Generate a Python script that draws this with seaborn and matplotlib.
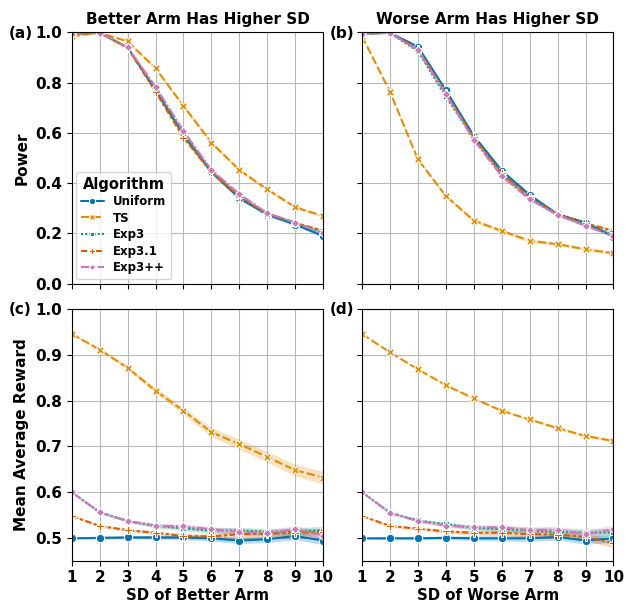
import numpy as np
import pandas as pd
import matplotlib
matplotlib.use("Agg")
import matplotlib.pyplot as plt
import seaborn as sns

sd = list(range(1, 11))
algorithms = ["Uniform", "TS", "Exp3", "Exp3.1", "Exp3++"]

# power, better arm has higher SD
power_better = {
    "Uniform": [0.995, 0.998, 0.940, 0.770, 0.592, 0.444, 0.340, 0.275, 0.235, 0.190],
    "TS":      [0.985, 0.998, 0.964, 0.857, 0.707, 0.561, 0.452, 0.375, 0.304, 0.269],
    "Exp3":    [0.995, 0.998, 0.940, 0.772, 0.598, 0.446, 0.348, 0.279, 0.240, 0.205],
    "Exp3.1":  [0.995, 0.998, 0.938, 0.764, 0.581, 0.443, 0.345, 0.278, 0.242, 0.210],
    "Exp3++":  [0.995, 0.998, 0.940, 0.784, 0.607, 0.452, 0.356, 0.280, 0.243, 0.200],
}
# power, worse arm has higher SD
power_worse = {
    "Uniform": [0.995, 0.998, 0.943, 0.770, 0.588, 0.450, 0.353, 0.276, 0.243, 0.187],
    "TS":      [0.985, 0.764, 0.495, 0.349, 0.251, 0.210, 0.171, 0.157, 0.137, 0.121],
    "Exp3":    [0.995, 0.998, 0.925, 0.745, 0.578, 0.435, 0.340, 0.275, 0.235, 0.195],
    "Exp3.1":  [0.995, 0.998, 0.935, 0.760, 0.582, 0.440, 0.345, 0.276, 0.240, 0.210],
    "Exp3++":  [0.995, 0.998, 0.930, 0.755, 0.572, 0.428, 0.336, 0.274, 0.230, 0.190],
}
# mean average reward, better arm has higher SD
reward_better = {
    "Uniform": [0.499, 0.500, 0.501, 0.501, 0.501, 0.499, 0.494, 0.497, 0.504, 0.494],
    "TS":      [0.946, 0.912, 0.872, 0.822, 0.778, 0.731, 0.705, 0.677, 0.648, 0.632],
    "Exp3":    [0.600, 0.556, 0.537, 0.526, 0.521, 0.516, 0.516, 0.513, 0.514, 0.516],
    "Exp3.1":  [0.548, 0.526, 0.517, 0.511, 0.504, 0.503, 0.508, 0.509, 0.511, 0.512],
    "Exp3++":  [0.600, 0.556, 0.537, 0.527, 0.525, 0.519, 0.513, 0.511, 0.519, 0.505],
}
# mean average reward, worse arm has higher SD
reward_worse = {
    "Uniform": [0.499, 0.499, 0.499, 0.500, 0.499, 0.499, 0.499, 0.502, 0.494, 0.499],
    "TS":      [0.946, 0.906, 0.869, 0.834, 0.805, 0.778, 0.759, 0.740, 0.723, 0.712],
    "Exp3":    [0.600, 0.555, 0.538, 0.530, 0.522, 0.519, 0.516, 0.513, 0.511, 0.512],
    "Exp3.1":  [0.548, 0.526, 0.520, 0.514, 0.511, 0.511, 0.508, 0.507, 0.502, 0.488],
    "Exp3++":  [0.600, 0.555, 0.537, 0.527, 0.523, 0.523, 0.517, 0.518, 0.508, 0.519],
}

# half widths of the confidence bands
band_power = [0.002, 0.002, 0.004, 0.006, 0.007, 0.007, 0.007, 0.007, 0.006, 0.006]
band_reward_ts = [0.002, 0.003, 0.004, 0.006, 0.008, 0.010, 0.011, 0.012, 0.013, 0.014]
band_reward_ts_worse = [0.001, 0.001, 0.001, 0.002, 0.002, 0.002, 0.002, 0.003, 0.003, 0.003]
band_reward = [0.002, 0.003, 0.003, 0.004, 0.005, 0.006, 0.007, 0.007, 0.008, 0.009]

sns.set_style("ticks", {"axes.grid": True, "grid.color": "#b8b8b8"})
plt.rcParams["font.family"] = ["DejaVu Sans"]
plt.rcParams["font.weight"] = "bold"
plt.rcParams["axes.labelweight"] = "bold"
plt.rcParams["axes.titleweight"] = "bold"
plt.rcParams["axes.edgecolor"] = "black"
plt.rcParams["text.color"] = "black"
plt.rcParams["axes.labelcolor"] = "black"
plt.rcParams["xtick.color"] = "black"
plt.rcParams["ytick.color"] = "black"

palette = sns.color_palette("colorblind", 5)
colors = dict(zip(algorithms, palette))


def to_long(values):
    rows = []
    for alg in algorithms:
        for x, v in zip(sd, values[alg]):
            rows.append({"SD": x, "value": v, "Algorithm": alg})
    return pd.DataFrame(rows)


def draw(ax, values, bands, legend):
    df = to_long(values)
    sns.lineplot(data=df, x="SD", y="value", hue="Algorithm", style="Algorithm",
                 hue_order=algorithms, style_order=algorithms, palette=palette,
                 markers=True, dashes=True, errorbar=None, markersize=6,
                 linewidth=1.5, ax=ax, legend=legend)
    for alg in algorithms:
        m = np.array(values[alg])
        h = np.array(bands[alg])
        ax.fill_between(sd, m - h, m + h, color=colors[alg], alpha=0.25, lw=0)


fig, axes = plt.subplots(2, 2, figsize=(6.26, 6.04), dpi=100)
fig.subplots_adjust(left=0.1145, right=0.98, top=0.9465, bottom=0.0717,
                    wspace=0.154, hspace=0.102)

pb = {a: band_power for a in algorithms}
draw(axes[0, 0], power_better, pb, "brief")
draw(axes[0, 1], power_worse, pb, False)
rb = {a: band_reward for a in algorithms}
rb["TS"] = band_reward_ts
draw(axes[1, 0], reward_better, rb, False)
rw = {a: band_reward for a in algorithms}
rw["TS"] = band_reward_ts_worse
draw(axes[1, 1], reward_worse, rw, False)

for ax in axes.flat:
    ax.set_xlim(1, 10)
    ax.set_xticks(sd)
    ax.tick_params(labelsize=11)
    for s in ax.spines.values():
        s.set_color("black")
for ax in axes[0]:
    ax.set_ylim(0, 1.0)
    ax.set_yticks([0.0, 0.2, 0.4, 0.6, 0.8, 1.0])
    ax.set_xticklabels([])
    ax.set_xlabel("")
for ax in axes[1]:
    ax.set_ylim(0.45, 1.0)
    ax.set_yticks([0.5, 0.6, 0.7, 0.8, 0.9, 1.0])
for ax in axes[:, 1]:
    ax.set_yticklabels([])
    ax.set_ylabel("")

axes[0, 0].set_title("Better Arm Has Higher SD", fontsize=11)
axes[0, 1].set_title("Worse Arm Has Higher SD", fontsize=11)
axes[0, 0].set_ylabel("Power", fontsize=11)
axes[1, 0].set_ylabel("Mean Average Reward", fontsize=11)
axes[1, 0].set_xlabel("SD of Better Arm", fontsize=10.7, labelpad=2)
axes[1, 1].set_xlabel("SD of Worse Arm", fontsize=10.7, labelpad=2)

leg = axes[0, 0].legend(title="Algorithm", loc="lower left", fontsize=8.5,
                        title_fontsize=10.5, handlelength=1.9, markerscale=0.75,
                        borderaxespad=0.4, labelspacing=0.3)
leg.get_title().set_fontweight("bold")

for label, (x, y) in zip(["(a)", "(b)", "(c)", "(d)"],
                         [(9, 33), (330, 33), (9, 309), (330, 309)]):
    fig.text(x / 626, 1 - y / 604, label, fontsize=11, fontweight="bold",
             ha="left", va="center")

fig.savefig("out.png", dpi=100)
